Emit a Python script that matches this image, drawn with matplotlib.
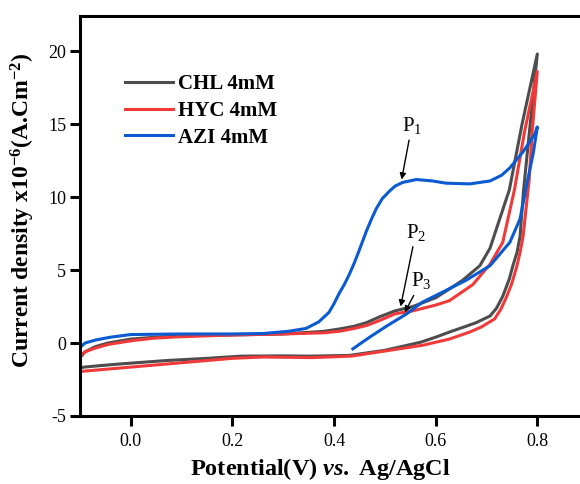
import matplotlib
matplotlib.use("Agg")
import matplotlib.pyplot as plt

plt.rcParams["font.family"] = ["Liberation Serif", "DejaVu Serif"]
plt.rcParams["mathtext.fontset"] = "custom"
plt.rcParams["mathtext.rm"] = "Liberation Serif:bold"
plt.rcParams["mathtext.it"] = "Liberation Serif:italic:bold"
plt.rcParams["mathtext.bf"] = "Liberation Serif:bold"
plt.rcParams["axes.unicode_minus"] = False

# Cyclic voltammograms: forward scan (-0.1 -> 0.8 V) followed by the reverse scan
chl_potential = [-0.1, -0.1, -0.09, -0.07, -0.045, -0.02, 0.0, 0.05, 0.1, 0.2, 0.3, 0.38,
                 0.41, 0.44, 0.464, 0.49, 0.52, 0.555, 0.6, 0.627, 0.653, 0.687, 0.707,
                 0.726, 0.745, 0.77, 0.8,
                 0.786, 0.773, 0.766, 0.76, 0.752, 0.745, 0.732, 0.72, 0.707, 0.68, 0.66,
                 0.627, 0.6, 0.57, 0.5, 0.43, 0.35, 0.3, 0.217, 0.15, 0.07, 0.0, -0.027,
                 -0.06, -0.092, -0.1]
chl_current = [-1.7, -1.0, -0.6, -0.25, 0.0, 0.15, 0.27, 0.4, 0.5, 0.55, 0.62, 0.8,
               0.96, 1.15, 1.4, 1.8, 2.2, 2.5, 3.1, 3.7, 4.3, 5.3, 6.5,
               8.5, 10.5, 15.0, 19.8,
               15.0, 10.5, 7.3, 6.2, 5.3, 4.4, 3.2, 2.4, 1.85, 1.4, 1.15,
               0.75, 0.4, 0.05, -0.5, -0.85, -0.9, -0.88, -0.9, -1.05, -1.2, -1.38, -1.45,
               -1.55, -1.65, -1.7]

hyc_potential = [-0.1, -0.1, -0.09, -0.07, -0.045, 0.0, 0.045, 0.09, 0.2, 0.3, 0.38,
                 0.41, 0.44, 0.464, 0.49, 0.52, 0.555, 0.6, 0.627, 0.673, 0.707, 0.732,
                 0.755, 0.775, 0.8,
                 0.79, 0.784, 0.772, 0.766, 0.76, 0.75, 0.74, 0.728, 0.716, 0.69, 0.667,
                 0.627, 0.575, 0.5, 0.434, 0.355, 0.26, 0.2, 0.1, 0.0, -0.05, -0.1]
hyc_current = [-1.95, -0.9, -0.6, -0.35, -0.1, 0.15, 0.33, 0.42, 0.55, 0.62, 0.7,
               0.8, 1.0, 1.2, 1.55, 2.0, 2.2, 2.6, 2.9, 4.0, 5.4, 6.9,
               10.5, 14.5, 18.6,
               14.5, 11.2, 7.3, 6.2, 5.3, 4.1, 3.2, 2.3, 1.65, 1.1, 0.75,
               0.27, -0.15, -0.55, -0.9, -1.0, -0.96, -1.05, -1.35, -1.65, -1.8, -1.95]

azi_potential = [-0.1, -0.09, -0.07, -0.04, 0.0, 0.1, 0.2, 0.26, 0.31, 0.345, 0.37, 0.39,
                 0.40, 0.41, 0.42, 0.43, 0.44, 0.45, 0.464, 0.475, 0.483, 0.495, 0.509,
                 0.52, 0.535, 0.562, 0.594, 0.62, 0.667,
                 0.707, 0.73, 0.746, 0.772, 0.795, 0.8,
                 0.792, 0.78, 0.766, 0.746, 0.707, 0.66, 0.62, 0.574, 0.543, 0.503, 0.47,
                 0.437]
azi_current = [-0.3, 0.0, 0.2, 0.4, 0.58, 0.62, 0.62, 0.65, 0.8, 1.0, 1.45, 2.1,
               2.7, 3.4, 4.0, 4.7, 5.5, 6.4, 7.7, 8.6, 9.2, 9.9, 10.4,
               10.75, 11.0, 11.2, 11.1, 10.95, 10.9,
               11.1, 11.5, 12.0, 13.1, 14.3, 14.8,
               13.0, 11.0, 8.5, 6.9, 5.3, 4.3, 3.6, 2.8, 2.0, 1.15, 0.4,
               -0.4]

series_labels = ["CHL 4mM", "HYC 4mM", "AZI 4mM"]
series_colors = ["#4d4d4d", "#f03a3a", "#0a5ad2"]

x_ticks = [0.0, 0.2, 0.4, 0.6, 0.8]
y_ticks = [-5, 0, 5, 10, 15, 20]

peak_labels = ["P$_\\mathregular{1}$", "P$_\\mathregular{2}$", "P$_\\mathregular{3}$"]
peak_points = [(0.533, 11.2), (0.531, 2.5), (0.539, 2.1)]
peak_text_pos = [(0.553, 14.9), (0.561, 7.6), (0.572, 4.25)]

fig = plt.figure(figsize=(5.8, 4.84), dpi=100)
ax = fig.add_axes([0.138, 0.1405, 0.876, 0.8264])

for pot, cur, lab, col in zip([chl_potential, hyc_potential, azi_potential],
                              [chl_current, hyc_current, azi_current],
                              series_labels, series_colors):
    ax.plot(pot, cur, color=col, lw=2.2, label=lab, solid_joinstyle="round")

ax.set_xlim(-0.1, 0.9)
ax.set_ylim(-5, 22.4)
ax.set_xticks(x_ticks)
ax.set_xticklabels([f"{v:.1f}" for v in x_ticks])
ax.set_yticks(y_ticks)
ax.set_yticklabels([str(v) for v in y_ticks])

for side in ax.spines.values():
    side.set_linewidth(2.2)
ax.tick_params(axis="both", direction="out", length=7, width=2.2,
               labelsize=13, colors="black")
ax.tick_params(axis="x", pad=5)
ax.tick_params(axis="y", pad=3)

ax.set_xlabel("Potential(V) $\\mathit{vs.}$ Ag/AgCl", fontsize=17.5, fontweight="bold", va="center")
ax.xaxis.set_label_coords(0.472, -0.133)
ax.set_ylabel("Current density x10$^{\\mathregular{-6}}$(A.Cm$^{\\mathregular{-2}}$)",
              fontsize=17, fontweight="bold", va="center")
ax.yaxis.set_label_coords(-0.112, 0.515)

leg = ax.legend(loc="upper left", bbox_to_anchor=(0.0886, 0.855), frameon=False,
                prop={"family": "Liberation Serif", "weight": "bold", "size": 15},
                handlelength=2.3, handletextpad=0.25, labelspacing=0.33,
                borderpad=0, borderaxespad=0)

for lab, pt, tp in zip(peak_labels, peak_points, peak_text_pos):
    ax.annotate(lab, xy=pt, xytext=tp, ha="center", va="center", fontsize=15,
                arrowprops=dict(arrowstyle="-|>", color="black", lw=1.0,
                                mutation_scale=9, shrinkA=1, shrinkB=0))

fig.savefig("out.png", dpi=100)
